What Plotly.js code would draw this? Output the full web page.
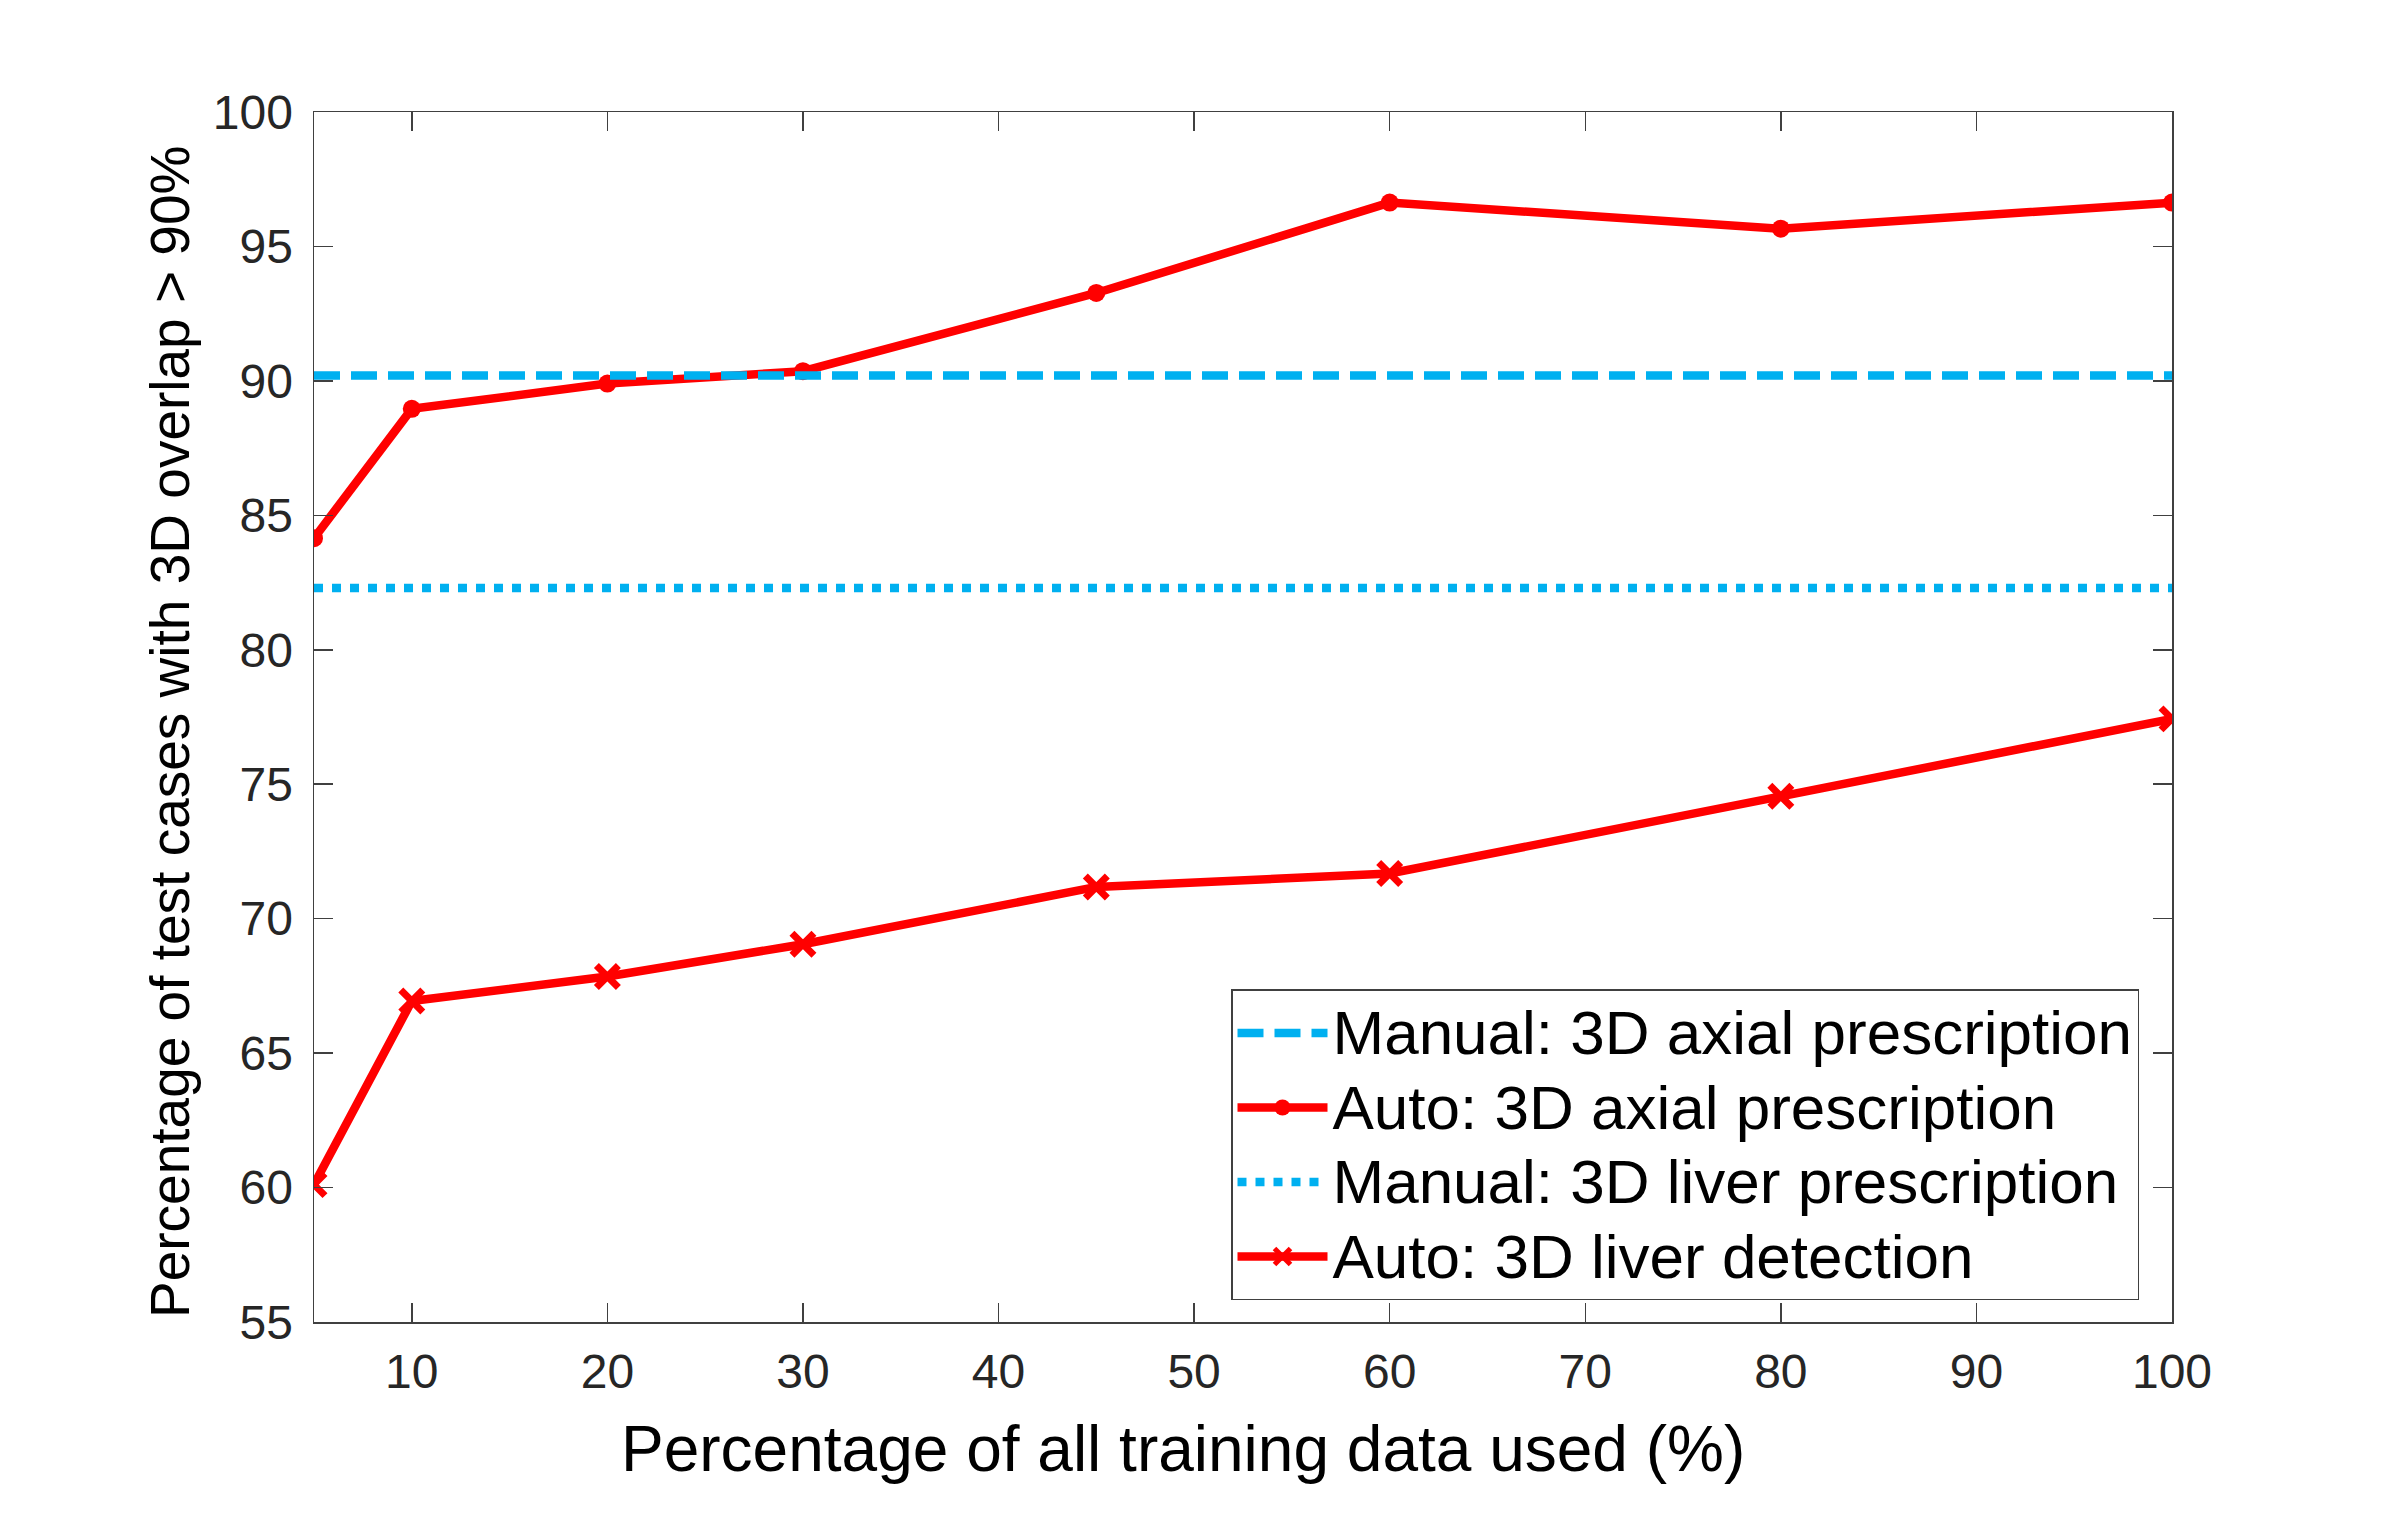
<!DOCTYPE html>
<html>
<head>
<meta charset="utf-8">
<script src="https://cdn.plot.ly/plotly-3.0.1.min.js"></script>
<style>html,body{margin:0;padding:0;background:#fff;}</style>
</head>
<body>
<div id="chart" style="width:2401px;height:1530px;"></div>
<script>
// Data
const trainingPct = [5, 10, 20, 30, 45, 60, 80, 100];
const autoAxial = [84.15, 88.96, 89.9, 90.36, 93.27, 96.63, 95.66, 96.63];
const autoLiver = [60.11, 66.94, 67.85, 69.05, 71.18, 71.68, 74.55, 77.43];
const manualAxialValue = 90.2;
const manualLiverValue = 82.3;
const xRange = [5, 100];
const yRange = [55, 100];
const seriesNames = [
  "Manual: 3D axial prescription",
  "Auto: 3D axial prescription",
  "Manual: 3D liver prescription",
  "Auto: 3D liver detection"
];
const xTitle = "Percentage of all training data used (%)";
const yTitle = "Percentage of test cases with 3D overlap > 90%";

const red = "#ff0000";
const blue = "#00b0f0";
const lw = 8.5;
const fontFam = "Liberation Sans, Arial, Helvetica, sans-serif";
const legendName = s => '<span style="font-size:62px">' + s + '</span>';

const traces = [
  {
    x: trainingPct, y: autoAxial, name: legendName(seriesNames[1]), legendrank: 2,
    mode: "lines+markers", type: "scatter",
    line: {color: red, width: lw},
    marker: {symbol: "circle", size: 18, color: red}
  },
  {
    x: trainingPct, y: autoLiver, name: legendName(seriesNames[3]), legendrank: 4,
    mode: "lines+markers", type: "scatter",
    line: {color: red, width: lw},
    marker: {symbol: "x-thin", size: 22, color: red, line: {color: red, width: 7}}
  },
  {
    x: xRange, y: [manualAxialValue, manualAxialValue], name: legendName(seriesNames[0]), legendrank: 1,
    mode: "lines", type: "scatter",
    line: {color: blue, width: lw, dash: "26px,11px"}
  },
  {
    x: xRange, y: [manualLiverValue, manualLiverValue], name: legendName(seriesNames[2]), legendrank: 3,
    mode: "lines", type: "scatter",
    line: {color: blue, width: lw, dash: "9px,9px"}
  }
];

const axisCommon = {
  showline: true, linecolor: "#404040", linewidth: 1.5,
  mirror: "ticks", ticks: "inside", ticklen: 19, tickwidth: 1.5, tickcolor: "#404040",
  showgrid: false, zeroline: false,
  tickfont: {family: fontFam, size: 48, color: "#262626"}
};

const layout = {
  width: 2401, height: 1530,
  paper_bgcolor: "#ffffff", plot_bgcolor: "#ffffff",
  margin: {l: 314, r: 229, t: 112, b: 208},
  showlegend: true,
  xaxis: Object.assign({}, axisCommon, {
    range: xRange, tick0: 0, dtick: 10, ticklabelstandoff: 7
  }),
  yaxis: Object.assign({}, axisCommon, {
    range: yRange, tick0: 55, dtick: 5, ticklabelstandoff: 10
  }),
  annotations: [
    {
      text: xTitle, xref: "paper", yref: "paper",
      x: 0.4677, y: -0.1050, xanchor: "center", yanchor: "middle",
      showarrow: false, font: {family: fontFam, size: 64, color: "#000"}
    },
    {
      text: yTitle, xref: "paper", yref: "paper", textangle: -90,
      x: -0.0775, y: 0.4876, xanchor: "center", yanchor: "middle",
      showarrow: false, font: {family: fontFam, size: 55, color: "#000"}
    }
  ],
  legend: {
    x: (1231 - 314) / 1858, y: 0.275, xanchor: "left", yanchor: "top",
    bgcolor: "#ffffff", bordercolor: "#404040", borderwidth: 1.5,
    font: {family: fontFam, size: 55, color: "#000"},
    traceorder: "normal", itemwidth: 90, tracegroupgap: 0
  }
};

Plotly.newPlot("chart", traces, layout, {staticPlot: true, displayModeBar: false});
</script>
</body>
</html>
